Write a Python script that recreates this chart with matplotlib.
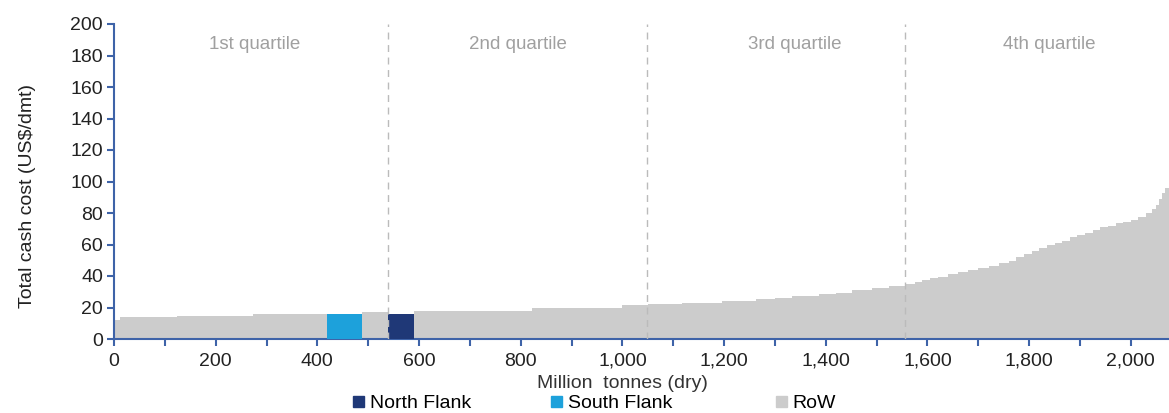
import matplotlib
matplotlib.use("Agg")
import matplotlib.pyplot as plt
from matplotlib.patches import Patch

plt.rcParams['font.family'] = ['Liberation Sans', 'DejaVu Sans']

# RoW segments: start of segment (Mt, cumulative) and cash cost (US$/dmt)
row_start = [0, 12, 124, 273, 487, 590, 823, 1000, 1050, 1118, 1196, 1263, 1300,
             1334, 1387, 1420, 1452, 1491, 1525,
             1556, 1575, 1590, 1605, 1620, 1640, 1660, 1680, 1700, 1720, 1740,
             1760, 1775, 1790, 1805, 1820, 1835, 1850, 1865, 1880, 1895, 1910,
             1925, 1940, 1955, 1970, 1985, 2000, 2015, 2030, 2042, 2050, 2056,
             2062, 2068]
row_end = row_start[1:] + [2080]
row_cost = [12, 14, 14.8, 15.8, 17.3, 17.5, 19.5, 21.5, 22, 23, 24, 25.5, 26,
            27, 28.5, 29.5, 31, 32.5, 33.5,
            35, 36, 37.5, 38.5, 39.5, 41, 42.5, 44, 45, 46.5, 48,
            49.5, 52, 54, 56, 57.5, 59.5, 61, 62.5, 64.5, 66, 67.5,
            69.5, 71, 72, 73.5, 74.5, 75.5, 77.5, 80, 82.5, 85,
            89, 93, 96]
# leave room for the BHP mines
row_end[3] = 418
row_end[4] = 538

sf_range = (418, 487)
sf_cost = 16
nf_range = (538, 590)
nf_cost = 16

quartile_bounds = [538, 1049, 1556]
quartile_labels = ['1st quartile', '2nd quartile', '3rd quartile', '4th quartile']
quartile_label_x = [277, 794, 1338, 1839]

xticks = list(range(0, 2001, 200))
yticks = list(range(0, 201, 20))

c_nf = '#1F3877'
c_sf = '#1DA1DB'
c_row = '#CCCCCC'
c_axis = '#3E63A8'

fig = plt.figure(figsize=(11.69, 4.13), dpi=100)
ax = fig.add_axes([114/1169, 74/413, 1 - 114/1169, (339-24)/413])

widths = [e - s for s, e in zip(row_start, row_end)]
ax.bar(row_start, row_cost, width=widths, align='edge', color=c_row, linewidth=0, zorder=2)
ax.bar([sf_range[0]], [sf_cost], width=sf_range[1]-sf_range[0], align='edge', color=c_sf, linewidth=0, zorder=3)
ax.bar([nf_range[0]], [nf_cost], width=nf_range[1]-nf_range[0], align='edge', color=c_nf, linewidth=0, zorder=3)

for b in quartile_bounds:
    ax.axvline(b, color='#BBBBBB', linestyle=(0, (5, 4)), linewidth=1, zorder=4)
for lx, lt in zip(quartile_label_x, quartile_labels):
    ax.text(lx, 187, lt, ha='center', va='center', color='#A0A0A0', fontsize=13.5)

ax.set_xlim(0, 2075)
ax.set_ylim(0, 200)
ax.set_yticks(yticks)
ax.set_xticks(xticks)
ax.set_xticklabels([f'{v:,}' for v in xticks])
ax.set_xticks(list(range(100, 2001, 200)), minor=True)

for s in ['top', 'right']:
    ax.spines[s].set_visible(False)
for s in ['left', 'bottom']:
    ax.spines[s].set_color(c_axis)
    ax.spines[s].set_linewidth(1.5)

ax.tick_params(axis='both', which='both', direction='out', color=c_axis, width=1.5,
               length=5, labelsize=14, labelcolor='#222222')
ax.tick_params(axis='x', pad=5)
ax.tick_params(axis='y', pad=3)

ax.set_ylabel('Total cash cost (US$/dmt)', fontsize=14, color='#222222')
ax.yaxis.set_label_coords(-0.074, 0.454)
fig.text(622/1169, 1 - 384/413, 'Million  tonnes (dry)', ha='center', va='center',
         fontsize=14, color='#333333')

legend_items = [(c_nf, 'North Flank', 353), (c_sf, 'South Flank', 551), (c_row, 'RoW', 776)]
for col, lab, px in legend_items:
    fig.legend(handles=[Patch(color=col, label=lab)], loc='center left',
               bbox_to_anchor=(px/1169, 1 - 404/413), frameon=False, fontsize=14,
               handlelength=0.55, handleheight=0.55, handletextpad=0.3,
               borderpad=0, borderaxespad=0)

fig.savefig('out.png', dpi=100)
